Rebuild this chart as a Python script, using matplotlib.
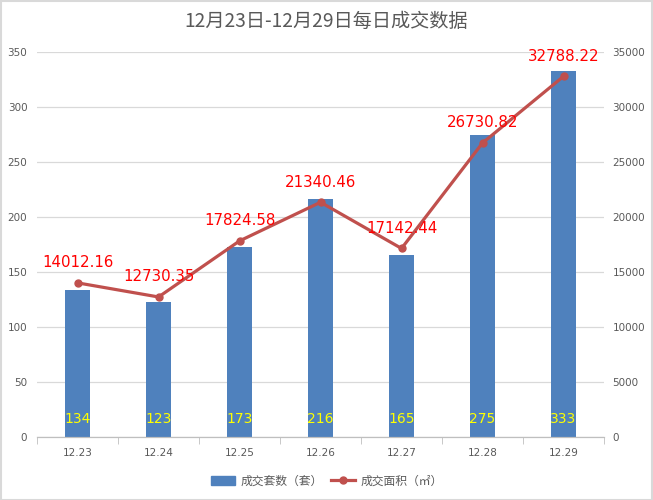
import matplotlib.pyplot as plt
import numpy as np
from matplotlib.patches import Rectangle
from matplotlib.lines import Line2D
from matplotlib.patches import Patch

plt.rcParams['font.family'] = ['Noto Sans CJK SC', 'DejaVu Sans']

dates = ["12.23", "12.24", "12.25", "12.26", "12.27", "12.28", "12.29"]
units = [134, 123, 173, 216, 165, 275, 333]
area = [14012.16, 12730.35, 17824.58, 21340.46, 17142.44, 26730.82, 32788.22]

bar_color = "#4F81BD"
line_color = "#C0504D"
txt_color = "#595959"
num_font = ["DejaVu Sans"]

fig = plt.figure(figsize=(6.53, 5), dpi=100)
ax = fig.add_axes([0.0567, 0.126, 0.8683, 0.77])
ax2 = ax.twinx()

x = np.arange(len(dates))
ax.bar(x, units, width=0.32, color=bar_color, zorder=2)
ax.set_xlim(-0.5, len(dates) - 0.5)
ax.set_ylim(0, 350)
ax.set_yticks(range(0, 351, 50))
ax.yaxis.grid(True, color="#D9D9D9", lw=0.9)
ax.set_axisbelow(True)

for xi, v in zip(x, units):
    ax.text(xi, 16, str(v), ha="center", va="center", color="#FFFF00",
            fontsize=10, family=num_font, zorder=3)

ax2.plot(x, area, color=line_color, lw=2.3, marker="o", markersize=5)
ax2.set_ylim(0, 35000)
ax2.set_yticks(range(0, 35001, 5000))
for xi, v in zip(x, area):
    ax2.annotate(f"{v:.2f}", (xi, v), xytext=(0, 20), textcoords="offset pixels",
                 ha="center", va="center", color="#FF0000", fontsize=10.8,
                 family=num_font)

ax.set_xticks(x)
ax.set_xticklabels(dates)
ax.set_xticks(np.arange(-0.5, len(dates)), minor=True)
ax.tick_params(axis="x", which="major", length=0, pad=8, labelsize=7.5, labelcolor=txt_color)
ax.tick_params(axis="x", which="minor", length=5, color="#BFBFBF")
ax.tick_params(axis="y", length=0, labelsize=7.5, labelcolor=txt_color, pad=7)
ax2.tick_params(axis="y", length=0, labelsize=7.5, labelcolor=txt_color, pad=6)
for lab in ax.get_xticklabels() + ax.get_yticklabels() + ax2.get_yticklabels():
    lab.set_family(num_font)

for a in (ax, ax2):
    for s in ("top", "left", "right"):
        a.spines[s].set_visible(False)
    a.spines["bottom"].set_color("#BFBFBF")

fig.text(0.5, 0.958, "12月23日-12月29日每日成交数据", ha="center", va="center",
         fontsize=13.8, color=txt_color)

handles = [Patch(color=bar_color),
           Line2D([0], [0], color=line_color, lw=2.3, marker="o", markersize=5)]
fig.legend(handles, ["成交套数（套）", "成交面积（㎡）"], loc="center",
           bbox_to_anchor=(0.5, 0.038), ncol=2, frameon=False, fontsize=8.5,
           labelcolor=txt_color, handlelength=2.1, handletextpad=0.4,
           columnspacing=0.7)

fig.patches.append(Rectangle((0.001, 0.001), 0.998, 0.997, transform=fig.transFigure,
                             fill=False, edgecolor="#D9D9D9", lw=1.5))

plt.savefig("out.png", dpi=100)
